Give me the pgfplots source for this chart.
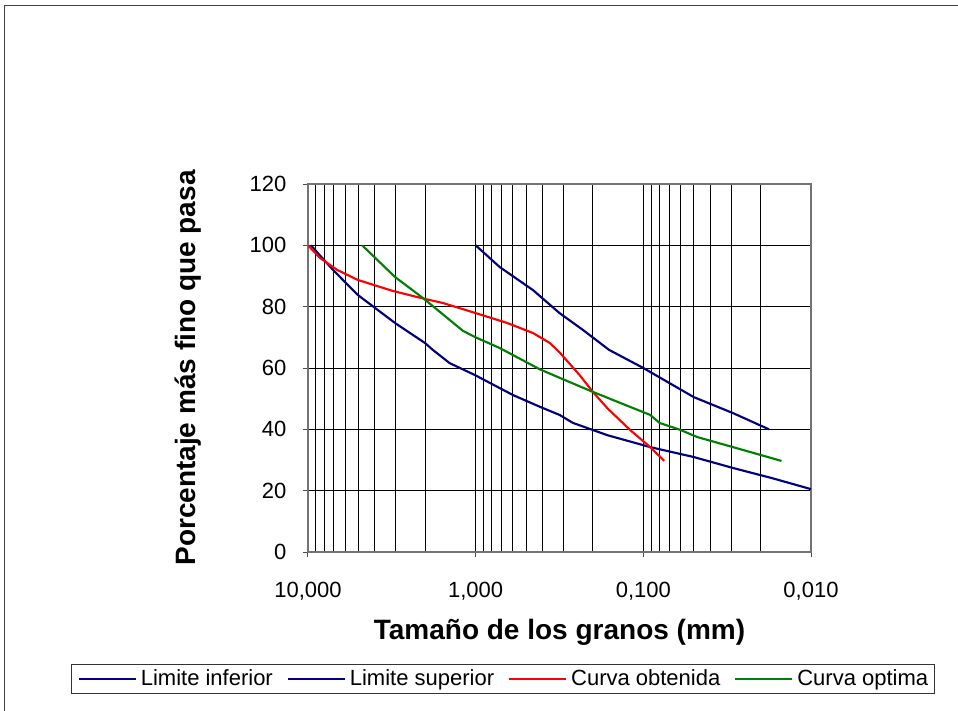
\documentclass[border=0pt]{standalone}
\usepackage{fontspec}
\setmainfont{Liberation Sans}
\usepackage{pgfplots}
\pgfplotsset{compat=1.18}

\definecolor{limblue}{RGB}{0,0,128}
\definecolor{optgreen}{RGB}{0,128,0}

\newcommand{\tickfont}{\fontsize{16.5}{19.8}\selectfont}
\newcommand{\labfont}{\fontsize{21}{25}\selectfont\bfseries}

\begin{document}
\begin{tikzpicture}
% chart area frame
\draw[black!75, line width=0.75pt] (3.375pt,-4.125pt) rectangle (730pt,-545pt);
\begin{axis}[
    at={(231pt,-414pt)}, anchor=south west,
    scale only axis,
    width=377.25pt, height=276pt,
    xmode=log, x dir=reverse,
    xmin=0.01, xmax=10,
    ymin=0, ymax=120,
    xtick={10,1,0.1,0.01},
    xticklabels={{10,000},{1,000},{0,100},{0,010}},
    minor xtick={2,3,4,5,6,7,8,9,0.2,0.3,0.4,0.5,0.6,0.7,0.8,0.9,0.02,0.03,0.04,0.05,0.06,0.07,0.08,0.09},
    ytick={0,20,...,120},
    xmajorgrids, xminorgrids, ymajorgrids,
    major grid style={black, line width=0.75pt},
    minor grid style={black, line width=0.75pt},
    axis line style={draw=black!55, line width=1.2pt},
    tick align=outside, xtick pos=lower, ytick pos=left,
    major tick length=4pt, minor tick length=0pt,
    tick style={black!70, line width=0.75pt},
    /pgf/number format/assume math mode=true,
    xticklabel style={font=\tickfont, anchor=base, yshift=-30pt},
    yticklabel style={font=\tickfont, anchor=east, inner sep=0pt, xshift=-12pt},
    xlabel={Tamaño de los granos (mm)},
    ylabel={Porcentaje más fino que pasa},
    xlabel style={font=\labfont, at={(axis description cs:0.5,-0.239)}, anchor=base},
    ylabel style={font=\labfont, at={(axis description cs:-0.2386,0.5)}, anchor=center},
    legend columns=4,
    legend style={at={(0.3877,-0.345)}, anchor=center, draw=black!80, line width=0.75pt,
        font=\tickfont, inner xsep=4.5pt, inner ysep=2pt,
        nodes={inner xsep=0pt},
        /tikz/every odd column/.append style={column sep=3pt},
        /tikz/every even column/.append style={column sep=10.5pt}},
    legend image code/.code={\draw[#1, line width=1.5pt] (0pt,0pt) -- (42.75pt,0pt);},
    every axis plot/.append style={line width=1.6pt, no markers},
]
\addplot[limblue] coordinates {
 (9.6,100) (7.1,92) (5.04,83.8) (3.03,74.7) (2.0,68.1) (1.80,65.9) (1.43,61.6)
 (1.01,57.7) (0.60,51.2) (0.412,47.3) (0.316,44.7) (0.263,42.1) (0.164,38.1)
 (0.0909,34.2) (0.0503,31.0) (0.0292,27.4) (0.0171,24.1) (0.01,20.5)};
\addplot[limblue] coordinates {
 (1.0,100) (0.718,92.9) (0.455,85.4) (0.316,77.9) (0.229,72.4) (0.16,65.9)
 (0.1,60) (0.05,50.5) (0.0292,45.3) (0.0178,40)};
\addplot[red] coordinates {
 (10,100) (8.48,95.9) (6.71,92) (5.04,88.7) (3.11,85.1) (2.0,82.5) (1.57,81.2)
 (1.0,77.9) (0.65,74.7) (0.455,71.4) (0.36,68.1) (0.316,65.1) (0.24,57.7)
 (0.2,52.2) (0.164,46.9) (0.12,39.8) (0.091,34.2) (0.075,29.7)};
\addplot[optgreen] coordinates {
 (4.75,100) (3.03,89.7) (2.06,82.8) (1.19,72.1) (1.0,70) (0.718,66.5)
 (0.412,59.5) (0.2,52.2) (0.091,44.7) (0.08,42.1) (0.06,39.8) (0.0478,37.5)
 (0.0292,34.2) (0.015,29.7)};
\legend{Limite inferior,Limite superior,Curva obtenida,Curva optima}
\end{axis}
\pgfresetboundingbox
\path[use as bounding box] (0pt,0pt) rectangle (718.5pt,-533.25pt);
\end{tikzpicture}
\end{document}
